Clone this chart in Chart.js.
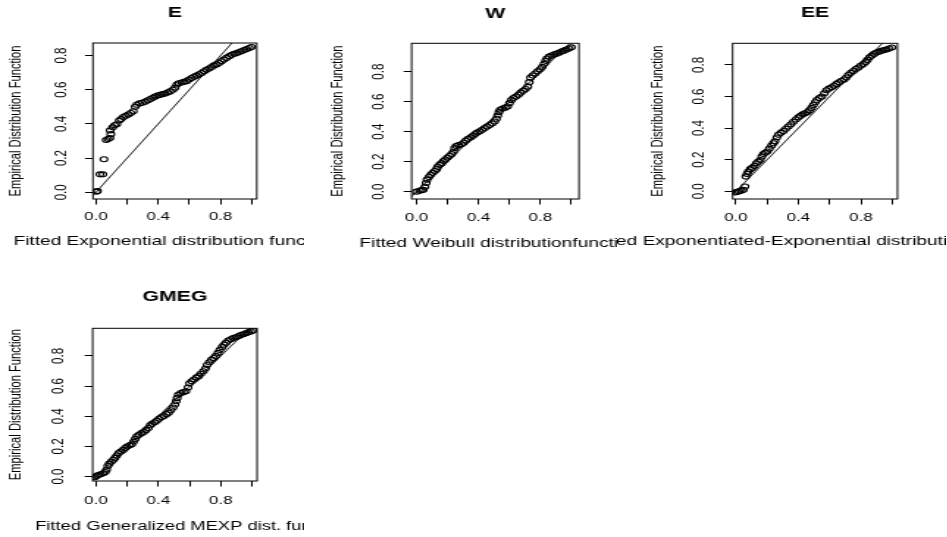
<!DOCTYPE html>
<html>
<head>
<meta charset="utf-8">
<script src="https://cdn.jsdelivr.net/npm/chart.js@4.4.0/dist/chart.umd.min.js"></script>
<style>
  html, body { margin: 0; padding: 0; background: #ffffff; }
  body { position: relative; width: 947px; height: 537px; overflow: hidden; }
  canvas { position: absolute; }
</style>
</head>
<body>
<canvas id="cE"></canvas>
<canvas id="cW"></canvas>
<canvas id="cEE"></canvas>
<canvas id="cGMEG"></canvas>
<script>
// ---------------- DATA ----------------
const panelTitles = ['E', 'W', 'EE', 'GMEG'];
const xAxisLabels = [
  'Fitted Exponential distribution function',
  'Fitted Weibull distributionfunction',
  'Fitted Exponentiated-Exponential distribution function',
  'Fitted Generalized MEXP dist. function'
];
const yAxisLabel = 'Empirical Distribution Function';
const xTickValues = [0, 0.2, 0.4, 0.6, 0.8, 1.0];
const xTickLabels = ['0.0', '', '0.4', '', '0.8', ''];
const yTickValues = [0, 0.2, 0.4, 0.6, 0.8];
const yTickLabels = ['0.0', '0.2', '0.4', '0.6', '0.8'];

// E : Exponential
const eFitted = [0.004,0.010,0.026,0.045,0.052,0.066,0.078,0.090,0.096,0.092,0.108,0.120,0.134,0.150,0.162,0.176,0.192,0.208,0.224,0.240,0.252,0.262,0.280,0.298,0.316,0.334,0.350,0.366,0.380,0.396,0.412,0.428,0.444,0.460,0.476,0.494,0.508,0.520,0.532,0.550,0.566,0.582,0.598,0.614,0.630,0.646,0.662,0.678,0.694,0.710,0.726,0.742,0.758,0.774,0.790,0.806,0.822,0.838,0.856,0.872,0.888,0.904,0.920,0.936,0.952,0.968,0.984,0.998];
const eEmpirical = [0.004,0.008,0.105,0.105,0.193,0.306,0.312,0.318,0.340,0.362,0.380,0.392,0.398,0.420,0.428,0.440,0.448,0.455,0.464,0.474,0.500,0.512,0.520,0.524,0.530,0.538,0.546,0.553,0.560,0.566,0.570,0.574,0.578,0.584,0.590,0.600,0.612,0.630,0.638,0.642,0.646,0.650,0.660,0.668,0.676,0.682,0.690,0.698,0.708,0.716,0.724,0.732,0.742,0.748,0.756,0.766,0.776,0.786,0.796,0.804,0.810,0.814,0.820,0.826,0.832,0.838,0.844,0.850];

// W : Weibull
const wFitted = [0.000,0.020,0.032,0.044,0.054,0.062,0.068,0.080,0.092,0.104,0.118,0.130,0.136,0.150,0.162,0.174,0.186,0.198,0.212,0.226,0.238,0.246,0.256,0.272,0.290,0.304,0.318,0.334,0.350,0.364,0.378,0.392,0.408,0.424,0.440,0.456,0.472,0.488,0.504,0.516,0.524,0.532,0.540,0.556,0.572,0.588,0.600,0.612,0.626,0.642,0.658,0.672,0.688,0.704,0.718,0.728,0.736,0.750,0.766,0.782,0.798,0.812,0.824,0.834,0.842,0.856,0.872,0.888,0.904,0.920,0.936,0.952,0.968,0.984,1.000];
const wEmpirical = [0.000,0.006,0.010,0.012,0.033,0.058,0.080,0.098,0.112,0.126,0.138,0.150,0.166,0.180,0.190,0.204,0.214,0.226,0.238,0.250,0.266,0.290,0.304,0.310,0.316,0.326,0.340,0.352,0.362,0.372,0.384,0.394,0.402,0.412,0.424,0.434,0.444,0.454,0.468,0.486,0.508,0.530,0.546,0.554,0.560,0.568,0.590,0.610,0.624,0.634,0.646,0.660,0.672,0.684,0.700,0.730,0.760,0.774,0.788,0.802,0.816,0.832,0.852,0.872,0.888,0.900,0.908,0.914,0.920,0.926,0.934,0.940,0.948,0.954,0.962];

// EE : Exponentiated-Exponential
const eeFitted = [-0.006,0.008,0.020,0.034,0.048,0.058,0.064,0.072,0.080,0.092,0.104,0.118,0.132,0.144,0.156,0.166,0.176,0.188,0.200,0.214,0.228,0.240,0.250,0.262,0.272,0.288,0.304,0.320,0.336,0.352,0.368,0.384,0.400,0.414,0.428,0.442,0.456,0.470,0.484,0.496,0.508,0.518,0.534,0.550,0.566,0.580,0.596,0.612,0.628,0.644,0.660,0.676,0.692,0.706,0.720,0.736,0.752,0.768,0.784,0.800,0.816,0.830,0.842,0.856,0.870,0.884,0.900,0.916,0.932,0.948,0.964,0.980,0.998];
const eeEmpirical = [-0.008,-0.004,0.000,0.004,0.010,0.030,0.093,0.110,0.125,0.140,0.148,0.160,0.177,0.188,0.198,0.220,0.236,0.244,0.252,0.270,0.289,0.304,0.316,0.340,0.358,0.370,0.382,0.396,0.410,0.424,0.440,0.454,0.468,0.478,0.487,0.494,0.500,0.512,0.528,0.546,0.564,0.578,0.590,0.600,0.620,0.640,0.650,0.658,0.668,0.680,0.690,0.700,0.708,0.720,0.736,0.750,0.762,0.774,0.784,0.796,0.806,0.818,0.832,0.848,0.860,0.870,0.878,0.884,0.890,0.894,0.898,0.904,0.910];

// GMEG : Generalized MEXP
const gFitted = [-0.006,0.004,0.015,0.030,0.047,0.060,0.068,0.076,0.086,0.100,0.112,0.122,0.134,0.146,0.160,0.175,0.188,0.200,0.216,0.230,0.242,0.252,0.262,0.276,0.292,0.306,0.320,0.336,0.348,0.360,0.376,0.390,0.404,0.420,0.436,0.452,0.466,0.480,0.494,0.506,0.514,0.520,0.528,0.544,0.560,0.576,0.590,0.600,0.614,0.628,0.644,0.658,0.672,0.688,0.702,0.712,0.726,0.740,0.754,0.768,0.782,0.794,0.808,0.820,0.834,0.848,0.864,0.880,0.896,0.912,0.928,0.944,0.960,0.976,0.992,1.006];
const gEmpirical = [-0.004,0.004,0.011,0.016,0.022,0.030,0.046,0.070,0.086,0.100,0.112,0.124,0.140,0.156,0.166,0.177,0.190,0.200,0.208,0.214,0.232,0.250,0.268,0.278,0.288,0.296,0.308,0.322,0.340,0.350,0.360,0.370,0.384,0.394,0.402,0.414,0.424,0.440,0.458,0.478,0.500,0.520,0.542,0.554,0.560,0.566,0.590,0.618,0.632,0.644,0.656,0.666,0.682,0.698,0.716,0.740,0.758,0.774,0.786,0.800,0.820,0.840,0.858,0.874,0.888,0.902,0.910,0.918,0.924,0.930,0.938,0.944,0.950,0.956,0.962,0.968];

// Axis ranges per panel
const xRanges = [[-0.019, 1.032], [-0.032, 1.049], [-0.021, 1.034], [-0.021, 1.032]];
const yRanges = [[-0.039, 0.873], [-0.049, 0.989], [-0.049, 0.937], [-0.029, 0.983]];

const fittedSeries = [eFitted, wFitted, eeFitted, gFitted];
const empiricalSeries = [eEmpirical, wEmpirical, eeEmpirical, gEmpirical];

// ---------------- LAYOUT / STYLE ----------------
const SX = 1.47;               // horizontal stretch of the original picture
const FONT = '"Liberation Sans", Arial, Helvetica, sans-serif';
const TICK_FONT = 11.5, YLAB_FONT = 11.2, TITLE_FONT = 14.5;
const TLX = 5.5, TLY = 5.4;
const layouts = [
  {id:'cE',    left:0,   top:0,   wi:207, h:268, boxL:93,    boxR:257,   boxT:43,   boxB:199, titleY:12.8, xTickMid:216.7, xLabelY:241.7, xLabelCX:175,   xLabFont:13,   yLabelX:16,    yTickX:61.5},
  {id:'cW',    left:316, top:0,   wi:205, h:268, boxL:411.7, boxR:579.3, boxT:43.3, boxB:199, titleY:14.2, xTickMid:218,   xLabelY:243,   xLabelCX:499.5, xLabFont:13,   yLabelX:338.3, yTickX:379.2},
  {id:'cEE',   left:617, top:0,   wi:224, h:268, boxL:732.7, boxR:897.7, boxT:43.3, boxB:199, titleY:12.8, xTickMid:217.5, xLabelY:241.2, xLabelCX:815.2, xLabFont:13,   yLabelX:658.3, yTickX:699.2},
  {id:'cGMEG', left:0,   top:268, wi:207, h:269, boxL:92.7,  boxR:257.3, boxT:60.3, boxB:213, titleY:28.7, xTickMid:232.8, xLabelY:259,   xLabelCX:193,   xLabFont:12.5, yLabelX:16.7,  yTickX:59.2}
];

Chart.defaults.font.family = FONT;
Chart.defaults.color = '#000';

const framePlugin = {
  id: 'frame',
  afterDraw(chart, args, opts) {
    const {ctx, chartArea: a} = chart;
    ctx.save();
    ctx.strokeStyle = '#000';
    ctx.lineWidth = 1;
    ctx.strokeRect(a.left, a.top, a.right - a.left, a.bottom - a.top);
    ctx.fillStyle = '#000';
    ctx.font = opts.size + 'px ' + FONT;
    ctx.textAlign = 'center';
    ctx.textBaseline = 'middle';
    ctx.fillText(opts.text, opts.x, opts.y);
    ctx.restore();
  }
};

layouts.forEach((L, i) => {
  const cv = document.getElementById(L.id);
  cv.width = L.wi;
  cv.height = L.h;
  cv.style.left = L.left + 'px';
  cv.style.top = L.top + 'px';
  cv.style.width = (L.wi * SX) + 'px';
  cv.style.height = L.h + 'px';

  const boxL = (L.boxL - L.left) / SX;
  const boxR = (L.boxR - L.left) / SX;
  const yTickX = (L.yTickX - L.left) / SX;
  const yLabelX = (L.yLabelX - L.left) / SX;
  const titleTop = L.titleY - TITLE_FONT / 2;
  const titleBottom = L.boxT - TITLE_FONT - titleTop;
  const xTickPad = L.xTickMid - L.boxB - TLX - TICK_FONT * 1.2 / 2;
  const yTickPad = boxL - yTickX - TLY - (TICK_FONT * 1.39) / 2;
  const yTitlePad = yLabelX - YLAB_FONT * 1.2 / 2;

  const pts = fittedSeries[i].map((x, k) => ({x: x, y: empiricalSeries[i][k]}));

  new Chart(cv, {
    type: 'scatter',
    data: {
      datasets: [
        {
          data: pts,
          pointStyle: 'circle',
          pointRadius: 2.5,
          pointHoverRadius: 2.5,
          pointBorderWidth: 1.1,
          borderColor: '#000',
          backgroundColor: 'rgba(0,0,0,0)',
          showLine: false
        },
        {
          type: 'line',
          data: [{x: -0.2, y: -0.2}, {x: 1.2, y: 1.2}],
          borderColor: '#222',
          borderWidth: 1,
          pointRadius: 0,
          fill: false
        }
      ]
    },
    options: {
      responsive: false,
      animation: false,
      devicePixelRatio: 1,
      events: [],
      layout: { padding: { left: 0, top: 0, bottom: 0, right: L.wi - boxR } },
      plugins: {
        legend: { display: false },
        tooltip: { enabled: false },
        title: {
          display: true,
          text: panelTitles[i],
          fullSize: false,
          color: '#000',
          font: { family: FONT, size: TITLE_FONT, weight: 'bold', lineHeight: 1 },
          padding: { top: titleTop, bottom: titleBottom }
        },
        frame: { text: xAxisLabels[i], x: (L.xLabelCX - L.left) / SX, y: L.xLabelY, size: L.xLabFont }
      },
      scales: {
        x: {
          type: 'linear',
          position: 'bottom',
          min: xRanges[i][0],
          max: xRanges[i][1],
          afterBuildTicks: s => { s.ticks = xTickValues.map(v => ({value: v})); },
          afterFit: s => { s.height = L.h - L.boxB; },
          border: { display: false },
          grid: { drawOnChartArea: false, drawTicks: true, tickLength: TLX, color: '#000', lineWidth: 1 },
          ticks: {
            autoSkip: false, maxRotation: 0, minRotation: 0,
            padding: xTickPad,
            color: '#000',
            font: { size: TICK_FONT, lineHeight: 1.2 },
            callback: v => xTickLabels[xTickValues.indexOf(v)]
          }
        },
        y: {
          type: 'linear',
          position: 'left',
          min: yRanges[i][0],
          max: yRanges[i][1],
          afterBuildTicks: s => { s.ticks = yTickValues.map(v => ({value: v})); },
          afterFit: s => { s.width = boxL; },
          border: { display: false },
          grid: { drawOnChartArea: false, drawTicks: true, tickLength: TLY, color: '#000', lineWidth: 1 },
          title: {
            display: true,
            text: yAxisLabel,
            color: '#000',
            font: { size: YLAB_FONT, lineHeight: 1.2 },
            padding: { top: yTitlePad, bottom: 0 }
          },
          ticks: {
            autoSkip: false, minRotation: 90, maxRotation: 90,
            crossAlign: 'center',
            padding: yTickPad,
            color: '#000',
            font: { size: TICK_FONT, lineHeight: 1.2 },
            callback: v => yTickLabels[yTickValues.indexOf(v)]
          }
        }
      }
    },
    plugins: [framePlugin]
  });
});
</script>
</body>
</html>
